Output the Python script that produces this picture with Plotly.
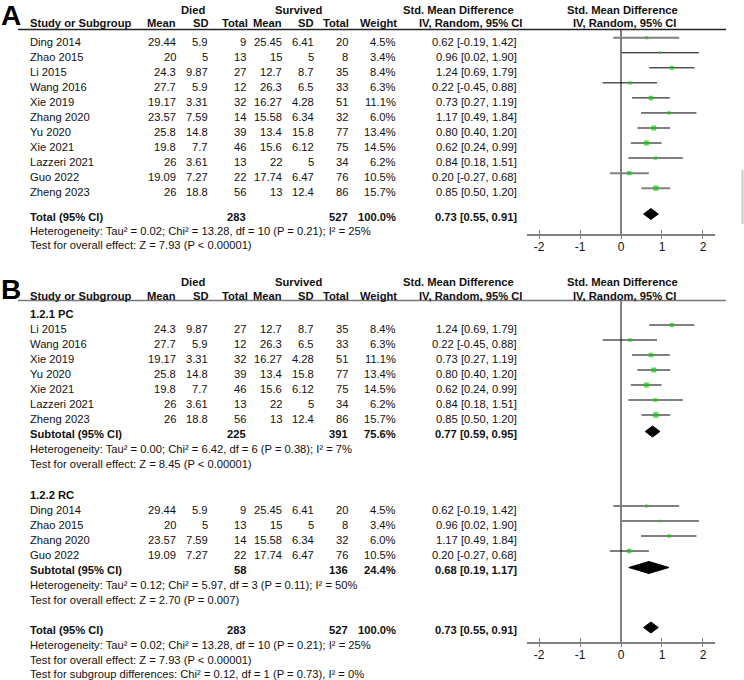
import plotly.graph_objects as go

# ---------------- data ----------------
studies = ["Ding 2014", "Zhao 2015", "Li 2015", "Wang 2016", "Xie 2019", "Zhang 2020",
           "Yu 2020", "Xie 2021", "Lazzeri 2021", "Guo 2022", "Zheng 2023"]
died_mean = [29.44, 20, 24.3, 27.7, 19.17, 23.57, 25.8, 19.8, 26, 19.09, 26]
died_sd = [5.9, 5, 9.87, 5.9, 3.31, 7.59, 14.8, 7.7, 3.61, 7.27, 18.8]
died_n = [9, 13, 27, 12, 32, 14, 39, 46, 13, 22, 56]
surv_mean = [25.45, 15, 12.7, 26.3, 16.27, 15.58, 13.4, 15.6, 22, 17.74, 13]
surv_sd = [6.41, 5, 8.7, 6.5, 4.28, 6.34, 15.8, 6.12, 5, 6.47, 12.4]
surv_n = [20, 8, 35, 33, 51, 32, 77, 75, 34, 76, 86]
weight = [4.5, 3.4, 8.4, 6.3, 11.1, 6.0, 13.4, 14.5, 6.2, 10.5, 15.7]
smd = [0.62, 0.96, 1.24, 0.22, 0.73, 1.17, 0.80, 0.62, 0.84, 0.20, 0.85]
ci_lo = [-0.19, 0.02, 0.69, -0.45, 0.27, 0.49, 0.40, 0.24, 0.18, -0.27, 0.50]
ci_hi = [1.42, 1.90, 1.79, 0.88, 1.19, 1.84, 1.20, 0.99, 1.51, 0.68, 1.20]

subgroup_pc = ["Li 2015", "Wang 2016", "Xie 2019", "Yu 2020", "Xie 2021", "Lazzeri 2021", "Zheng 2023"]
subgroup_rc = ["Ding 2014", "Zhao 2015", "Zhang 2020", "Guo 2022"]

total_sum = dict(n1=283, n2=527, w="100.0%", est=0.73, lo=0.55, hi=0.91)
pc_sum = dict(n1=225, n2=391, w="75.6%", est=0.77, lo=0.59, hi=0.95)
rc_sum = dict(n1=58, n2=136, w="24.4%", est=0.68, lo=0.19, hi=1.17)

het_total = "Heterogeneity: Tau² = 0.02; Chi² = 13.28, df = 10 (P = 0.21); I² = 25%"
eff_total = "Test for overall effect: Z = 7.93 (P < 0.00001)"
het_pc = "Heterogeneity: Tau² = 0.00; Chi² = 6.42, df = 6 (P = 0.38); I² = 7%"
eff_pc = "Test for overall effect: Z = 8.45 (P < 0.00001)"
het_rc = "Heterogeneity: Tau² = 0.12; Chi² = 5.97, df = 3 (P = 0.11); I² = 50%"
eff_rc = "Test for overall effect: Z = 2.70 (P = 0.007)"
sub_diff = "Test for subgroup differences: Chi² = 0.12, df = 1 (P = 0.73), I² = 0%"

x_ticks = [-2, -1, 0, 1, 2]

# styles (kept apart from data)
line_dark_A = {"Zhao 2015", "Li 2015", "Wang 2016", "Xie 2019", "Zhang 2020"}
line_dark_B = {"Li 2015", "Wang 2016", "Xie 2019", "Guo 2022"}

# ---------------- layout helpers ----------------
W, H = 744, 680
FONT = "Liberation Sans, Arial, sans-serif"
TXT = "#111111"
GRAY = "#808080"
FS = 11.2

fig = go.Figure()


def ann(x, y, text, anchor="left", bold=False, size=FS, color=TXT, yanchor="middle"):
    fig.add_annotation(x=x, y=y, xref="x", yref="y",
                       text=f"<b>{text}</b>" if bold else text,
                       showarrow=False, xanchor=anchor, yanchor=yanchor,
                       font=dict(family=FONT, size=size, color=color),
                       borderpad=0)


def fmt(v):
    return f"{v:g}"


COL = dict(dm=177, dsd=209, dn=247, sm=283, ssd=315, sn=349, w=397, ci=518)
HDR = dict(dm=177, dsd=210, dn=249, sm=283, ssd=315, sn=350, w=398, ci=522)


def headers(y_grp, y_col):
    ann(193, y_grp, "Died", "center", True)
    ann(298, y_grp, "Survived", "center", True)
    ann(458, y_grp, "Std. Mean Difference", "center", True)
    ann(622, y_grp, "Std. Mean Difference", "center", True)
    ann(29, y_col, "Study or Subgroup", "left", True)
    for k, t in [("dm", "Mean"), ("dsd", "SD"), ("dn", "Total"), ("sm", "Mean"),
                 ("ssd", "SD"), ("sn", "Total"), ("w", "Weight")]:
        ann(HDR[k], y_col, t, "right", True)
    ann(470, y_col, "IV, Random, 95% CI", "center", True)
    ann(624, y_col, "IV, Random, 95% CI", "center", True)


def study_row(i, y):
    ann(29, y, studies[i], "left")
    ann(COL["dm"], y, fmt(died_mean[i]), "right")
    ann(COL["dsd"], y, fmt(died_sd[i]), "right")
    ann(COL["dn"], y, str(died_n[i]), "right")
    ann(COL["sm"], y, fmt(surv_mean[i]), "right")
    ann(COL["ssd"], y, fmt(surv_sd[i]), "right")
    ann(COL["sn"], y, str(surv_n[i]), "right")
    ann(COL["w"], y, f"{weight[i]:.1f}%", "right")
    ann(COL["ci"], y, f"{smd[i]:.2f} [{ci_lo[i]:.2f}, {ci_hi[i]:.2f}]", "right")


def summary_row(label, s, y):
    ann(29, y, label, "left", True)
    ann(COL["dn"], y, str(s["n1"]), "right", True)
    ann(COL["sn"], y, str(s["n2"]), "right", True)
    ann(COL["w"], y, s["w"], "right", True)
    ann(COL["ci"], y, f"{s['est']:.2f} [{s['lo']:.2f}, {s['hi']:.2f}]", "right", True)


def forest(rows, ys, dark, xa, ya):
    gx, gy, kx, ky = [], [], [], []
    for i, y in zip(rows, ys):
        if studies[i] in dark:
            kx += [ci_lo[i], ci_hi[i], None]
            ky += [y, y, None]
        else:
            gx += [ci_lo[i], ci_hi[i], None]
            gy += [y, y, None]
    fig.add_trace(go.Scatter(x=gx, y=gy, mode="lines", line=dict(color=GRAY, width=2),
                             xaxis=xa, yaxis=ya, hoverinfo="skip", showlegend=False))
    fig.add_trace(go.Scatter(x=kx, y=ky, mode="lines", line=dict(color="#000000", width=1),
                             xaxis=xa, yaxis=ya, hoverinfo="skip", showlegend=False))
    fig.add_trace(go.Scatter(x=[smd[i] for i in rows], y=ys, mode="markers",
                             marker=dict(symbol="square", color="#10c810",
                                         size=[1.35 * weight[i] ** 0.5 for i in rows],
                                         line=dict(width=0)),
                             xaxis=xa, yaxis=ya, hoverinfo="skip", showlegend=False))


def diamond(s, y, xa, ya, half=5.5):
    fig.add_trace(go.Scatter(x=[s["lo"], s["est"], s["hi"], s["est"], s["lo"]],
                             y=[y, y - half, y, y + half, y], mode="lines",
                             fill="toself", fillcolor="#000000",
                             line=dict(color="#000000", width=1),
                             xaxis=xa, yaxis=ya, hoverinfo="skip", showlegend=False))


MARK_OFF = -4  # marks sit slightly above the text centre

# ---------------- Panel A ----------------
A_TOP, A_AX = 29.5, 233.5
ann(0, 15, "A", "left", True, size=28, color="#000000")
headers(9.5, 23)
rowsA = list(range(len(studies)))
yA = [41.7 + 15.05 * k for k in range(len(rowsA))]
for i, y in zip(rowsA, yA):
    study_row(i, y)
summary_row("Total (95% CI)", total_sum, 216.5)
ann(29, 230.5, het_total)
ann(29, 245, eff_total)
forest(rowsA, [y + MARK_OFF for y in yA], line_dark_A, "x2", "y2")
diamond(total_sum, 216.5 - 2.5, "x2", "y2")

# ---------------- Panel B ----------------
B_TOP, B_AX = 300.5, 641.5
ann(0, 289, "B", "left", True, size=28, color="#000000")
headers(282, 296)
ann(29, 314, "1.2.1 PC", "left", True)
rowsPC = [studies.index(s) for s in subgroup_pc]
yPC = [329 + 15 * k for k in range(len(rowsPC))]
for i, y in zip(rowsPC, yPC):
    study_row(i, y)
summary_row("Subtotal (95% CI)", pc_sum, 434)
ann(29, 448.5, het_pc)
ann(29, 463.5, eff_pc)

ann(29, 495, "1.2.2 RC", "left", True)
rowsRC = [studies.index(s) for s in subgroup_rc]
yRC = [510 + 15 * k for k in range(len(rowsRC))]
for i, y in zip(rowsRC, yRC):
    study_row(i, y)
summary_row("Subtotal (95% CI)", rc_sum, 570)
ann(29, 585, het_rc)
ann(29, 600, eff_rc)
summary_row("Total (95% CI)", total_sum, 630)
ann(29, 645, het_total)
ann(29, 660, eff_total)
ann(29, 673.5, sub_diff)

forest(rowsPC + rowsRC, [y + MARK_OFF for y in yPC + yRC], line_dark_B, "x3", "y3")
diamond(pc_sum, 434 - 2.5, "x3", "y3")
diamond(rc_sum, 570 - 2.5, "x3", "y3", half=6)
diamond(total_sum, 630 - 2.5, "x3", "y3")

# header rules
fig.add_shape(type="line", xref="x", yref="y", x0=18, x1=726, y0=A_TOP, y1=A_TOP,
              line=dict(color="#222222", width=1.3))
fig.add_shape(type="line", xref="x", yref="y", x0=18, x1=726, y0=B_TOP, y1=B_TOP,
              line=dict(color="#777777", width=1.3))
# faint edge mark at the right border of panel A
fig.add_shape(type="line", xref="x", yref="y", x0=742.5, x1=742.5, y0=170, y1=224,
              line=dict(color="#c8c8c8", width=2))

# ---------------- axes ----------------
X0, X1 = 527, 715
rng = [-2.293, 2.293]
dom_x = [X0 / W, X1 / W]

hidden = dict(visible=False, showgrid=False, zeroline=False)
fig.update_layout(
    width=W, height=H, margin=dict(l=0, r=0, t=0, b=0),
    plot_bgcolor="white", paper_bgcolor="white", showlegend=False,
    xaxis=dict(range=[0, W], domain=[0, 1], **hidden),
    yaxis=dict(range=[H, 0], domain=[0, 1], **hidden),
)


def forest_axes(xn, yn, top, ax):
    common = dict(range=rng, domain=dom_x, showgrid=False,
                  zeroline=True, zerolinecolor=GRAY, zerolinewidth=1.5,
                  showline=True, linecolor=GRAY, linewidth=1.5,
                  tickcolor=GRAY, tickwidth=1.3, tickvals=x_ticks,
                  fixedrange=True)
    fig.update_layout(**{
        f"xaxis{xn}": dict(anchor=f"y{yn}", ticks="outside", ticklen=4,
                           ticklabelstandoff=-3,
                           ticktext=[str(t) for t in x_ticks],
                           tickfont=dict(family=FONT, size=12, color=TXT), **common),
        f"yaxis{yn}": dict(anchor=f"x{xn}", range=[ax, top],
                           domain=[1 - ax / H, 1 - top / H], **hidden),
    })


forest_axes(2, 2, A_TOP, A_AX)
forest_axes(3, 3, B_TOP, B_AX)
# upper halves of the crossing tick marks
for xn, yn, base in [(4, 2, 2), (5, 3, 3)]:
    fig.update_layout(**{f"xaxis{xn}": dict(overlaying=f"x{base}", anchor=f"y{yn}",
                                            range=rng, domain=dom_x, ticks="inside",
                                            ticklen=4, tickcolor=GRAY, tickwidth=1.3,
                                            tickvals=x_ticks, showticklabels=False,
                                            showgrid=False, zeroline=False, showline=False)})
    fig.add_trace(go.Scatter(x=[None], y=[None], xaxis=f"x{xn}", yaxis=f"y{yn}",
                             showlegend=False, hoverinfo="skip"))

# remove the browser's default 8px page margin so the figure starts at the window corner
fig.write_html("out.html", config={"displayModeBar": False},
               post_script="document.body.style.margin='0';document.body.style.overflow='hidden';")
